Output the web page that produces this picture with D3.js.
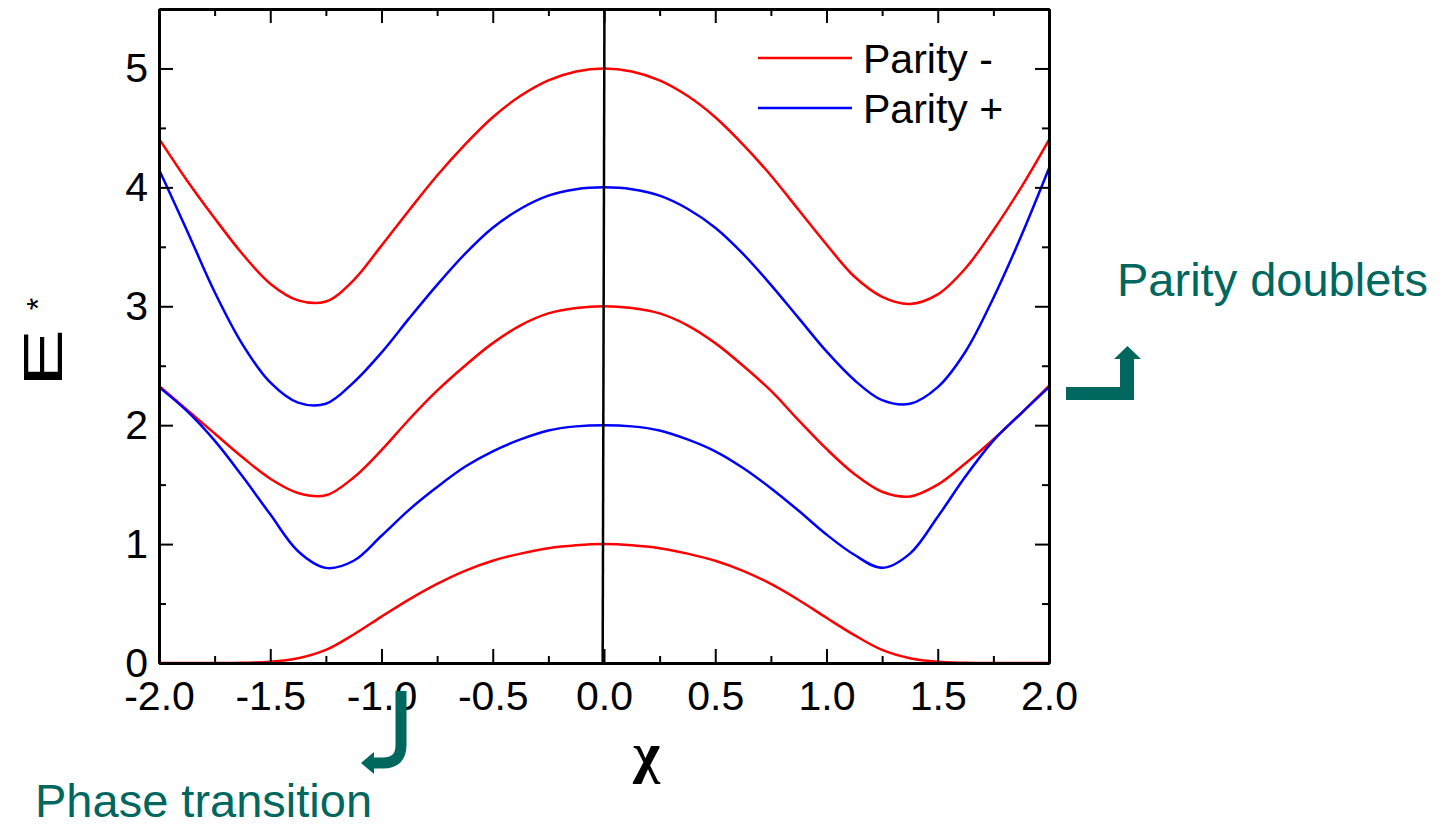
<!DOCTYPE html>
<html>
<head>
<meta charset="utf-8">
<script src="https://cdn.jsdelivr.net/npm/d3@7"></script>
<style>
  body { margin: 0; background: #fff; }
  svg { display: block; font-family: "Liberation Sans", Arial, sans-serif; }
</style>
</head>
<body>
<svg id="chart" width="1446" height="828"></svg>
<script>
// chi grid, -2 .. 2 in steps of 0.125
const chi = [-2, -1.875, -1.75, -1.625, -1.5, -1.375, -1.25, -1.125, -1, -0.875, -0.75, -0.625, -0.5, -0.375, -0.25, -0.125,
  0, 0.125, 0.25, 0.375, 0.5, 0.625, 0.75, 0.875, 1, 1.125, 1.25, 1.375, 1.5, 1.625, 1.75, 1.875, 2];

// excitation energies
const minus5 = [4.41, 4.06, 3.74, 3.44, 3.19, 3.05, 3.04, 3.22, 3.51, 3.81, 4.10, 4.36, 4.59, 4.77, 4.90, 4.975,
  5.00, 4.975, 4.90, 4.77, 4.59, 4.36, 4.10, 3.81, 3.52, 3.25, 3.08, 3.02, 3.10, 3.32, 3.64, 4.00, 4.40];
const plus4 = [4.15, 3.64, 3.12, 2.68, 2.36, 2.19, 2.18, 2.36, 2.61, 2.90, 3.18, 3.44, 3.66, 3.82, 3.93, 3.985,
  4.00, 3.985, 3.93, 3.82, 3.66, 3.44, 3.18, 2.90, 2.62, 2.38, 2.21, 2.18, 2.32, 2.62, 3.07, 3.59, 4.16];
const minus3 = [2.33, 2.13, 1.93, 1.73, 1.55, 1.43, 1.41, 1.56, 1.79, 2.05, 2.29, 2.50, 2.69, 2.84, 2.94, 2.985,
  3.00, 2.985, 2.94, 2.84, 2.69, 2.50, 2.29, 2.04, 1.80, 1.59, 1.44, 1.40, 1.50, 1.68, 1.88, 2.10, 2.33];
const plus2 = [2.32, 2.12, 1.87, 1.57, 1.25, 0.94, 0.80, 0.86, 1.07, 1.29, 1.48, 1.65, 1.78, 1.88, 1.955, 1.99,
  2.00, 1.99, 1.955, 1.88, 1.78, 1.64, 1.47, 1.28, 1.08, 0.91, 0.80, 0.92, 1.23, 1.57, 1.87, 2.10, 2.32];
const minus1 = [0, 0, 0, 0.002, 0.01, 0.04, 0.11, 0.24, 0.39, 0.535, 0.665, 0.775, 0.86, 0.92, 0.965, 0.99,
  1.00, 0.99, 0.965, 0.92, 0.86, 0.775, 0.665, 0.53, 0.38, 0.235, 0.11, 0.04, 0.01, 0.002, 0, 0, 0];

// near-vertical black line at chi = 0
const markChi = [0.002, -0.006];
const markE = [5.5, 0];

const xTicks = [-2, -1.5, -1, -0.5, 0, 0.5, 1, 1.5, 2];
const xMinor = [-1.75, -1.25, -0.75, -0.25, 0.25, 0.75, 1.25, 1.75];
const yTicks = [0, 1, 2, 3, 4, 5];
const yMinor = [0.5, 1.5, 2.5, 3.5, 4.5];

const seriesNames = ["Parity -", "Parity +"];
const seriesColors = ["#ff0000", "#0000ff"];
const curves = [
  {vals: minus5, parity: 0},
  {vals: plus4, parity: 1},
  {vals: minus3, parity: 0},
  {vals: plus2, parity: 1},
  {vals: minus1, parity: 0}
];

const teal = "#00675f";

let svg = d3.select("#chart");
let margin = {left: 159, top: 9, right: 397, bottom: 165};
let width = 1446, height = 828;

let xScale = d3.scaleLinear().domain([-2, 2]).range([margin.left, width - margin.right]);
let yScale = d3.scaleLinear().domain([0, 5.5]).range([height - margin.bottom, margin.top]);

svg.append("rect").attr("width", width).attr("height", height).attr("fill", "#fff");

const line = d3.line()
  .x((d, i) => xScale(chi[i]))
  .y(d => yScale(d))
  .curve(d3.curveCatmullRom.alpha(0.5));

let plot = svg.append("g").attr("fill", "none").attr("stroke-width", 2.5).attr("stroke-linejoin", "round");

plot.selectAll("path.curve")
  .data(curves)
  .enter()
  .append("path")
  .attr("class", "curve")
  .attr("stroke", d => seriesColors[d.parity])
  .attr("d", d => line(d.vals));

plot.append("path")
  .attr("stroke", "#000")
  .attr("d", d3.line().x(d => xScale(d[0])).y(d => yScale(d[1]))(markChi.map((c, i) => [c, markE[i]])));

// axes with inward ticks on all four sides
function styleAxis(g){
  g.select(".domain").attr("stroke-width", 3);
  g.selectAll(".tick line").attr("stroke-width", 2);
  g.selectAll("text").attr("font-size", 41).attr("fill", "#000")
    .attr("font-family", "Liberation Sans, Arial, sans-serif");
}

// plain hyphen for negatives, like the original
const fmtX = d => d3.format(".1f")(d).replace("\u2212", "-");

let yBase = height - margin.bottom;
let xRight = width - margin.right;

svg.append("g").attr("transform", "translate(0," + yBase + ")")
  .call(d3.axisBottom(xScale).tickValues(xMinor).tickSize(-7).tickSizeOuter(0).tickFormat(""))
  .call(styleAxis);
svg.append("g").attr("transform", "translate(0," + yBase + ")")
  .call(d3.axisBottom(xScale).tickValues(xTicks).tickSize(-14).tickSizeOuter(0).tickPadding(18).tickFormat(fmtX))
  .call(styleAxis);

svg.append("g").attr("transform", "translate(0," + margin.top + ")")
  .call(d3.axisTop(xScale).tickValues(xMinor).tickSize(-7).tickSizeOuter(0).tickFormat(""))
  .call(styleAxis);
svg.append("g").attr("transform", "translate(0," + margin.top + ")")
  .call(d3.axisTop(xScale).tickValues(xTicks).tickSize(-14).tickSizeOuter(0).tickFormat(""))
  .call(styleAxis);

svg.append("g").attr("transform", "translate(" + margin.left + ",0)")
  .call(d3.axisLeft(yScale).tickValues(yMinor).tickSize(-7).tickSizeOuter(0).tickFormat(""))
  .call(styleAxis);
svg.append("g").attr("transform", "translate(" + margin.left + ",0)")
  .call(d3.axisLeft(yScale).tickValues(yTicks).tickSize(-14).tickSizeOuter(0).tickPadding(11).tickFormat(d3.format("d")))
  .call(styleAxis);

svg.append("g").attr("transform", "translate(" + xRight + ",0)")
  .call(d3.axisRight(yScale).tickValues(yMinor).tickSize(-7).tickSizeOuter(0).tickFormat(""))
  .call(styleAxis);
svg.append("g").attr("transform", "translate(" + xRight + ",0)")
  .call(d3.axisRight(yScale).tickValues(yTicks).tickSize(-14).tickSizeOuter(0).tickFormat(""))
  .call(styleAxis);

// axis titles
svg.append("text")
  .attr("x", xScale(0.19))
  .attr("y", 772)
  .attr("text-anchor", "middle")
  .attr("font-family", "Liberation Serif, Times New Roman, serif")
  .attr("font-weight", "bold")
  .attr("font-size", 58)
  .text("\u03c7");

svg.append("text")
  .attr("transform", "translate(62,387) rotate(-90) scale(1.55,1)")
  .attr("font-size", 56)
  .attr("fill", "#000")
  .text("E");
svg.append("text")
  .attr("transform", "translate(49,304) rotate(-90)")
  .attr("text-anchor", "middle")
  .attr("font-size", 32)
  .attr("fill", "#000")
  .text("*");

// legend
let legend = svg.append("g").selectAll("g.leg")
  .data(seriesNames)
  .enter()
  .append("g")
  .attr("class", "leg")
  .attr("transform", (d, i) => "translate(758," + (58 + i * 50) + ")");
legend.append("line")
  .attr("x1", 0).attr("x2", 94)
  .attr("stroke", (d, i) => seriesColors[i])
  .attr("stroke-width", 2.5);
legend.append("text")
  .attr("x", 105)
  .attr("dy", "0.36em")
  .attr("font-size", 41)
  .text(d => d);

// annotations
svg.append("text")
  .attr("x", 1117).attr("y", 296)
  .attr("font-size", 47)
  .attr("fill", teal)
  .text("Parity doublets");

svg.append("path")
  .attr("fill", teal)
  .attr("d", "M1066,387 L1120,387 L1120,359 L1114,359 L1127.5,346 L1141,359 L1134,359 L1134,400 L1066,400 Z");

svg.append("text")
  .attr("x", 35).attr("y", 817)
  .attr("font-size", 47)
  .attr("fill", teal)
  .text("Phase transition");

svg.append("path")
  .attr("fill", "none")
  .attr("stroke", teal)
  .attr("stroke-width", 11)
  .attr("d", "M401,691 L401,745 Q401,763 383,763 L372,763");
svg.append("path")
  .attr("fill", teal)
  .attr("d", "M361,763 L374,752 L374,774 Z");
</script>
</body>
</html>
